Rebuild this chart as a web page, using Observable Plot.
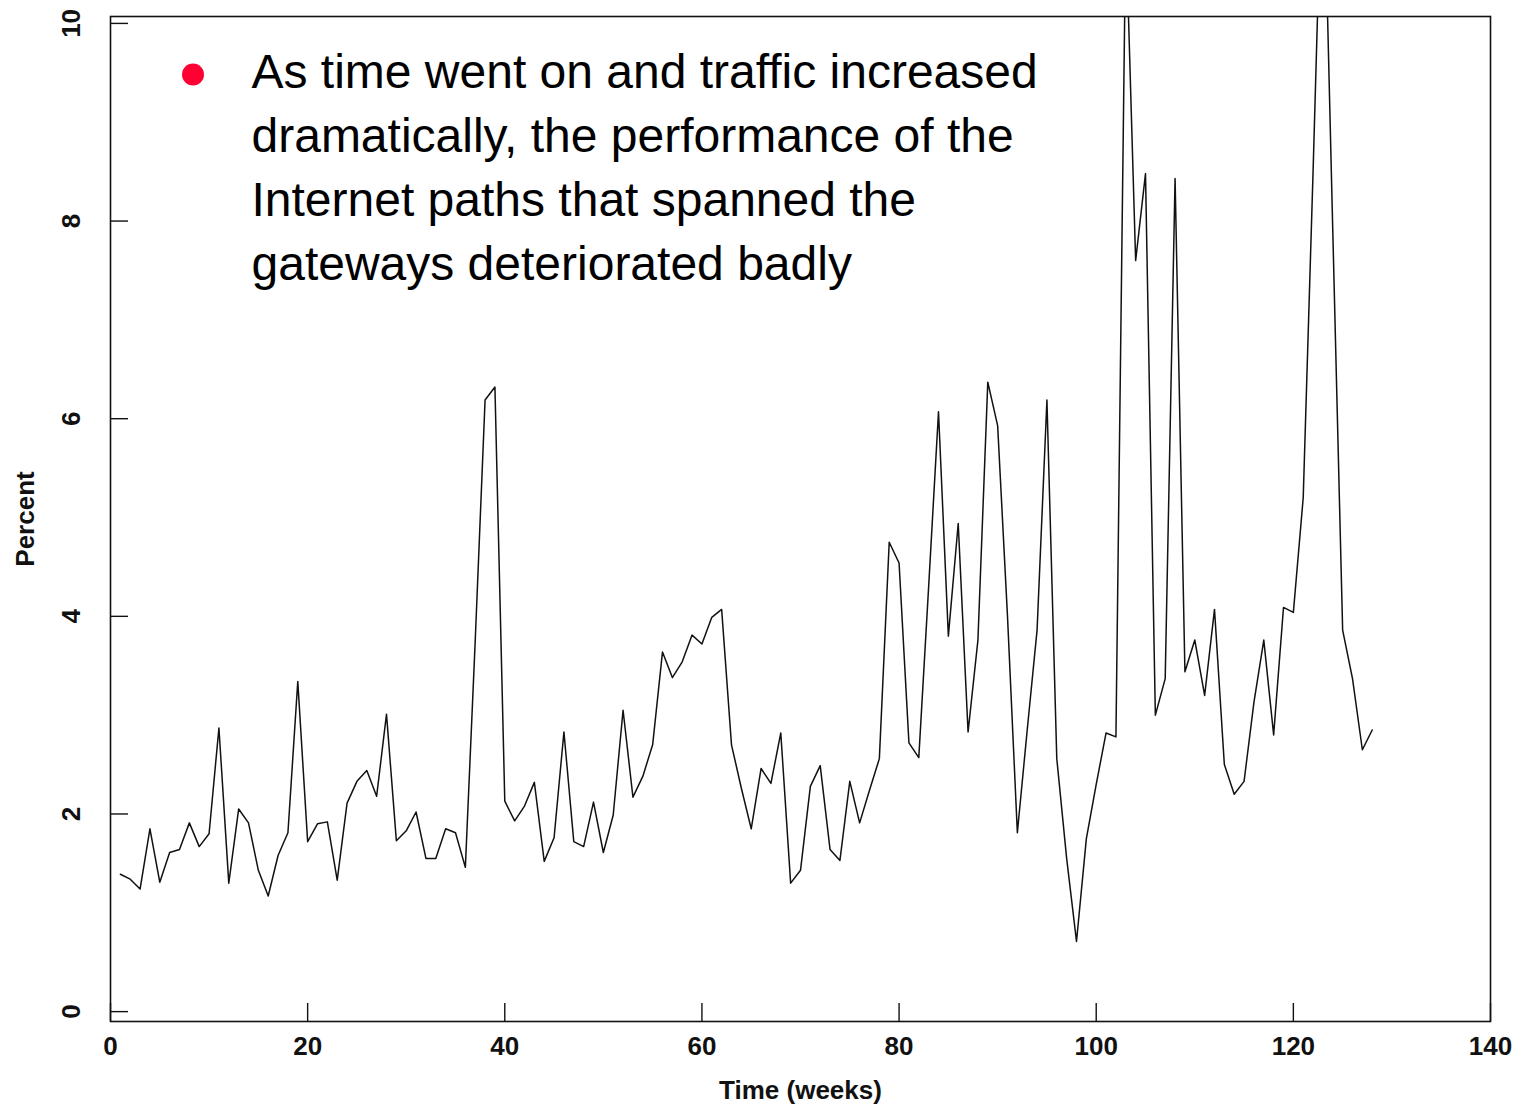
<!DOCTYPE html>
<html>
<head>
<meta charset="utf-8">
<script src="https://cdn.jsdelivr.net/npm/d3@7"></script>
<script src="https://cdn.jsdelivr.net/npm/@observablehq/plot@0.6"></script>
<style>
  html, body { margin: 0; padding: 0; background: #fff; }
  #chart { width: 1514px; height: 1107px; }
</style>
</head>
<body>
<div id="chart"></div>
<script>
// ---- data ----
const weeks = d3.range(1, 129);
const percent = [
  1.39, 1.34, 1.24, 1.85, 1.31, 1.61, 1.64, 1.91, 1.67, 1.80,
  2.87, 1.30, 2.05, 1.91, 1.43, 1.17, 1.58, 1.81, 3.34, 1.72,
  1.90, 1.92, 1.33, 2.11, 2.33, 2.44, 2.18, 3.01, 1.73, 1.83,
  2.02, 1.55, 1.55, 1.85, 1.81, 1.46, 3.75, 6.19, 6.32, 2.13,
  1.93, 2.08, 2.32, 1.52, 1.76, 2.83, 1.72, 1.67, 2.12, 1.61,
  1.99, 3.05, 2.17, 2.38, 2.70, 3.64, 3.38, 3.54, 3.81, 3.72,
  3.99, 4.07, 2.70, 2.26, 1.85, 2.46, 2.31, 2.82, 1.30, 1.43,
  2.28, 2.49, 1.64, 1.53, 2.33, 1.91, 2.24, 2.56, 4.75, 4.54,
  2.72, 2.57, 4.30, 6.07, 3.80, 4.94, 2.83, 3.76, 6.37, 5.93,
  4.00, 1.81, 2.85, 3.86, 6.19, 2.56, 1.55, 0.71, 1.75, 2.30,
  2.82, 2.78, 11.0, 7.60, 8.48, 3.00, 3.37, 8.43, 3.44, 3.76,
  3.20, 4.07, 2.50, 2.20, 2.33, 3.13, 3.76, 2.80, 4.09, 4.04,
  5.20, 8.50, 12.0, 7.90, 3.86, 3.37, 2.65, 2.85
];
const xTicks = [0, 20, 40, 60, 80, 100, 120, 140];
const yTicks = [0, 2, 4, 6, 8, 10];
const xLabel = "Time (weeks)";
const yLabel = "Percent";
const annotation = "As time went on and traffic increased\ndramatically, the performance of the\nInternet paths that spanned the\ngateways deteriorated badly";

const rows = weeks.map((w, i) => ({week: w, pct: percent[i]}));

// ---- layout ----
const W = 1514, H = 1107;
const mL = 110, mR = 24, mT = 16, mB = 86;
const fw = W - mL - mR, fh = H - mT - mB;
const axisFont = "'Liberation Sans', Arial, Helvetica, sans-serif";

const chart = Plot.plot({
  width: W,
  height: H,
  marginLeft: mL, marginRight: mR, marginTop: mT, marginBottom: mB,
  style: {fontFamily: axisFont, background: "#fff", color: "#000"},
  x: {domain: [0, 140], axis: null},
  y: {domain: [-0.1, 10.07], axis: null},
  marks: [
    Plot.frame({stroke: "#111", strokeWidth: 1.6}),
    Plot.tickX(xTicks, {x: d => d, insetTop: fh - 18, stroke: "#111", strokeWidth: 1.4}),
    Plot.tickY(yTicks, {y: d => d, insetRight: fw - 18, stroke: "#111", strokeWidth: 1.4}),
    Plot.text(xTicks, {x: d => d, text: d => String(d), frameAnchor: "bottom", lineAnchor: "top", dy: 15,
      textAnchor: "middle", fontSize: 26, fontWeight: "bold", fill: "#111"}),
    Plot.text(yTicks, {y: d => d, text: d => String(d), frameAnchor: "left", dx: -39, rotate: -90,
      textAnchor: "middle", lineAnchor: "middle", fontSize: 26, fontWeight: "bold", fill: "#111"}),
    Plot.text([yLabel], {text: d => d, frameAnchor: "left", dx: -85, rotate: -90,
      textAnchor: "middle", lineAnchor: "middle", fontSize: 26, fontWeight: "bold", fill: "#111"}),
    Plot.text([xLabel], {text: d => d, frameAnchor: "bottom", dy: 69,
      textAnchor: "middle", lineAnchor: "middle", fontSize: 26, fontWeight: "bold", fill: "#111"}),
    Plot.line(rows, {x: "week", y: "pct", stroke: "#111", strokeWidth: 1.5, clip: true}),
    Plot.dot([0], {frameAnchor: "top-left", dx: 82.5, dy: 58, r: 11, fill: "#ff0033", stroke: "none"}),
    Plot.text([annotation], {text: d => d, frameAnchor: "top-left", dx: 141, dy: 26,
      textAnchor: "start", lineAnchor: "top", lineHeight: 64 / 48,
      fontSize: 48, fill: "#000", fontFamily: "'Liberation Sans', Arial, sans-serif"})
  ]
});
document.getElementById("chart").appendChild(chart);
</script>
</body>
</html>
